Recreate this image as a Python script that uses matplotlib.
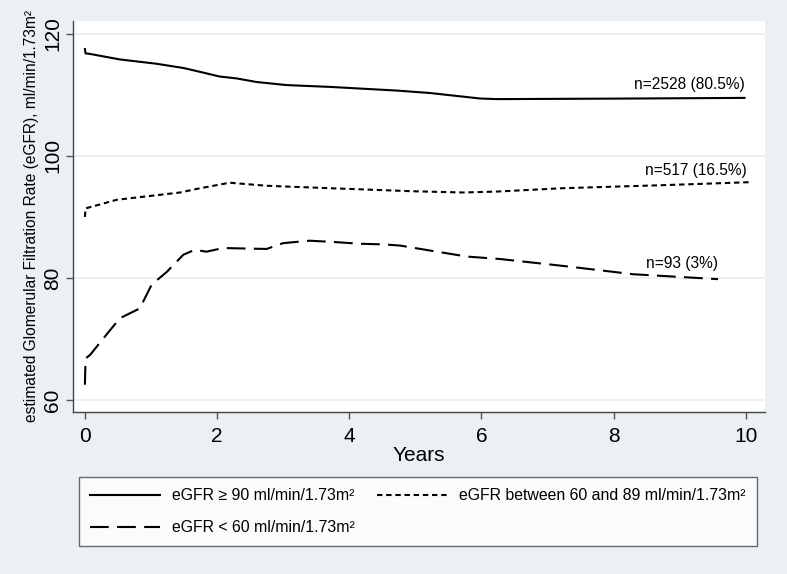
import matplotlib
matplotlib.use("Agg")
import matplotlib.pyplot as plt
from matplotlib.lines import Line2D

plt.rcParams['font.family'] = ['Liberation Sans', 'DejaVu Sans']

# ---- data ----
x_high = [0.0, 0.01, 0.08, 0.53, 1.08, 1.49, 1.69, 2.04, 2.29, 2.60, 3.05, 3.71,
          4.72, 5.22, 5.98, 6.23, 8.35, 9.98]
y_high = [117.5, 116.8, 116.7, 115.8, 115.1, 114.4, 113.9, 113.0, 112.7, 112.1, 111.6, 111.3,
          110.7, 110.3, 109.4, 109.3, 109.4, 109.5]

x_mid = [0.0, 0.01, 0.08, 0.48, 1.44, 1.70, 2.19, 2.75, 3.71, 4.97, 5.72, 6.23,
         7.23, 8.75, 10.09]
y_mid = [90.0, 91.4, 91.6, 92.8, 94.0, 94.6, 95.6, 95.1, 94.7, 94.2, 94.0, 94.15,
         94.7, 95.2, 95.7]

x_low = [0.0, 0.01, 0.08, 0.28, 0.53, 0.83, 1.01, 1.24, 1.49, 1.66, 1.84, 2.09,
         2.50, 2.75, 3.00, 3.40, 3.75, 4.16, 4.51, 4.77, 5.27, 5.78, 6.28, 7.29,
         8.30, 9.10, 9.58]
y_low = [62.5, 66.8, 67.4, 70.1, 73.4, 75.0, 78.9, 81.0, 83.8, 84.6, 84.3, 84.9,
         84.8, 84.75, 85.7, 86.1, 85.9, 85.6, 85.5, 85.3, 84.4, 83.5, 83.1, 81.9,
         80.6, 80.1, 79.8]

labels = ["eGFR \u2265 90 ml/min/1.73m\u00b2",
          "eGFR < 60 ml/min/1.73m\u00b2",
          "eGFR between 60 and 89 ml/min/1.73m\u00b2"]
end_labels = ["n=2528 (80.5%)", "n=517 (16.5%)", "n=93 (3%)"]

x_ticks = [0, 2, 4, 6, 8, 10]
y_ticks = [60, 80, 100, 120]

# ---- style ----
bg = "#EAF0F3"
grid_c = "#E6EEF1"
lw = 1.5
dash_long = (0, (9, 4))
dash_short = (0, (2.6, 1.8))

fig = plt.figure(figsize=(7.87, 5.74), dpi=100, facecolor=bg)
ax = fig.add_axes([73/787, 1-412/574, (765-73)/787, (412-21)/574])
ax.set_facecolor("white")

ax.plot(x_high, y_high, color="black", lw=lw, ls="-")
ax.plot(x_mid, y_mid, color="black", lw=lw, ls=dash_short)
ax.plot(x_low, y_low, color="black", lw=lw, ls=dash_long)

ax.text(x_high[-1], y_high[-1] + 1.0, end_labels[0], ha="right", va="bottom", fontsize=11.2)
ax.text(x_mid[-1] - 0.08, y_mid[-1] + 0.6, end_labels[1], ha="right", va="bottom", fontsize=11.2)
ax.text(x_low[-1], y_low[-1] + 1.4, end_labels[2], ha="right", va="bottom", fontsize=11.2)

ax.set_xlim(-0.18, 10.29)
ax.set_ylim(58.03, 122.1)
ax.set_xticks(x_ticks)
ax.set_yticks(y_ticks)
ax.set_yticklabels([str(v) for v in y_ticks], rotation=90, va="center")
ax.tick_params(axis="both", direction="out", length=5, width=1, color="#555555",
               labelsize=15, pad=6)
ax.tick_params(axis="y", pad=3)
ax.grid(axis="y", color=grid_c, lw=1.2)
ax.set_axisbelow(True)
for s in ["top", "right"]:
    ax.spines[s].set_visible(False)
for s in ["left", "bottom"]:
    ax.spines[s].set_color("#444444")
    ax.spines[s].set_linewidth(1)

ax.set_xlabel("Years", fontsize=15, labelpad=0)
ax.set_ylabel("estimated Glomerular Filtration Rate (eGFR), ml/min/1.73m\u00b2",
              fontsize=11.2, labelpad=3)

handles = [Line2D([], [], color="black", lw=lw, ls="-"),
           Line2D([], [], color="black", lw=lw, ls=dash_long),
           Line2D([], [], color="black", lw=lw, ls=dash_short)]
leg = fig.legend(handles, labels, ncol=2, loc="upper left",
                 bbox_to_anchor=(79/787, 1-477/574), fontsize=11.4,
                 frameon=True, fancybox=False, edgecolor="#444444",
                 handlelength=4.42, handletextpad=0.76, columnspacing=1.4,
                 borderpad=0.7, labelspacing=1.08, borderaxespad=0)
leg.get_frame().set_linewidth(1)
leg.get_frame().set_facecolor("white")

fig.savefig("out.png", dpi=100, facecolor=bg)
